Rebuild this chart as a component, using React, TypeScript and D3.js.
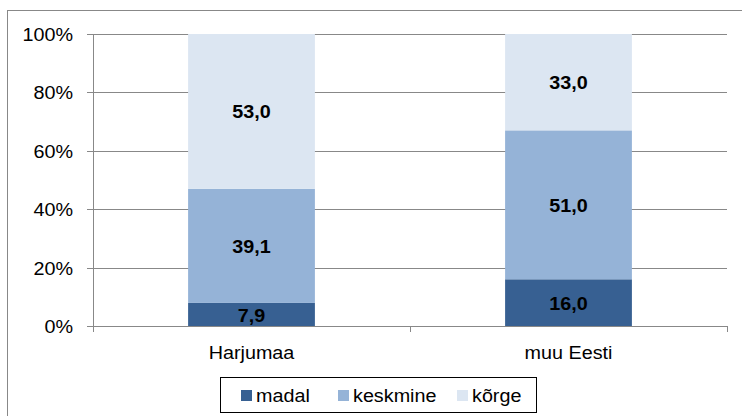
import React, { useEffect, useRef } from "react";
import * as d3 from "d3";

const categories = ["Harjumaa", "muu Eesti"];
const seriesNames = ["madal", "keskmine", "kõrge"];
const madal = [7.9, 16.0];
const keskmine = [39.1, 51.0];
const korge = [53.0, 33.0];
const yTicks = [0, 20, 40, 60, 80, 100];
const colors = ["#376092", "#95b3d7", "#dce6f2"];

const WIDTH = 742;
const HEIGHT = 416;
const SX = 1.13; // text in the reference is stretched a little horizontally
const FONT = '"Liberation Sans", Arial, sans-serif';
const GRID = "#888888";

const App = () => {
  const svgRef = useRef<SVGSVGElement>(null);

  useEffect(() => {
    const svg = d3.select(svgRef.current);
    svg.selectAll("*").remove();

    const left = 93;
    const right = 727;
    const top = 34;
    const bottom = 326;

    const x = d3.scaleBand().domain(categories).range([left, right]);
    const y = d3.scaleLinear().domain([0, 100]).range([bottom, top]);
    const barW = x.bandwidth() * 0.4;

    const rows = categories.map((c, i) => ({
      cat: c,
      madal: madal[i],
      keskmine: keskmine[i],
      "kõrge": korge[i],
    }));
    const stack = d3.stack<any>().keys(seriesNames)(rows);

    // outer frame (only top and left visible)
    svg
      .append("rect")
      .attr("x", 7.5)
      .attr("y", 10.5)
      .attr("width", 760)
      .attr("height", 420)
      .attr("fill", "white")
      .attr("stroke", GRID);

    // helper: stretched text
    const label = (g, tx, ty, text, anchor, weight = "normal") => {
      g.append("g")
        .attr("transform", `translate(${tx},${ty})`)
        .append("text")
        .attr("transform", `scale(${SX},1)`)
        .attr("text-anchor", anchor)
        .attr("dominant-baseline", "central")
        .attr("font-family", FONT)
        .attr("font-size", 17.5)
        .attr("font-weight", weight)
        .attr("fill", "#000")
        .text(text);
    };

    // gridlines
    svg
      .append("g")
      .selectAll("line")
      .data(yTicks.filter((d) => d > 0))
      .enter()
      .append("line")
      .attr("x1", left)
      .attr("x2", right)
      .attr("y1", (d) => Math.round(y(d)) + 0.5)
      .attr("y2", (d) => Math.round(y(d)) + 0.5)
      .attr("stroke", GRID);

    // y axis
    const yAxis = svg.append("g");
    yAxis
      .append("line")
      .attr("x1", left + 0.5)
      .attr("x2", left + 0.5)
      .attr("y1", top)
      .attr("y2", bottom)
      .attr("stroke", GRID);
    yTicks.forEach((t) => {
      const ty = Math.round(y(t)) + 0.5;
      yAxis
        .append("line")
        .attr("x1", left - 6)
        .attr("x2", left)
        .attr("y1", ty)
        .attr("y2", ty)
        .attr("stroke", GRID);
      label(yAxis, left - 20, ty, `${t}%`, "end");
    });

    // bars
    stack.forEach((layer, si) => {
      svg
        .append("g")
        .selectAll("rect")
        .data(layer)
        .enter()
        .append("rect")
        .attr("x", (d: any) => x(d.data.cat)! + (x.bandwidth() - barW) / 2)
        .attr("y", (d) => y(d[1]))
        .attr("width", barW)
        .attr("height", (d) => y(d[0]) - y(d[1]))
        .attr("fill", colors[si]);
    });

    // x axis
    const xAxis = svg.append("g");
    xAxis
      .append("line")
      .attr("x1", left)
      .attr("x2", right + 0.5)
      .attr("y1", bottom + 0.5)
      .attr("y2", bottom + 0.5)
      .attr("stroke", GRID);
    const bounds = [left, ...categories.map((c) => x(c)! + x.bandwidth())];
    bounds.forEach((bx) => {
      xAxis
        .append("line")
        .attr("x1", Math.round(bx) + 0.5)
        .attr("x2", Math.round(bx) + 0.5)
        .attr("y1", bottom)
        .attr("y2", bottom + 6)
        .attr("stroke", GRID);
    });
    categories.forEach((c) => {
      label(xAxis, x(c)! + x.bandwidth() / 2, bottom + 27, c, "middle");
    });

    // data labels
    const labels = svg.append("g");
    stack.forEach((layer) => {
      layer.forEach((d: any) => {
        const v = d[1] - d[0];
        label(
          labels,
          x(d.data.cat)! + x.bandwidth() / 2,
          (y(d[0]) + y(d[1])) / 2 + 1,
          v.toFixed(1).replace(".", ","),
          "middle",
          "bold"
        );
      });
    });

    // legend
    const legend = svg.append("g");
    legend
      .append("rect")
      .attr("x", 220.5)
      .attr("y", 377.5)
      .attr("width", 316)
      .attr("height", 35)
      .attr("fill", "white")
      .attr("stroke", "#000");
    const legendX = [241, 338, 457];
    seriesNames.forEach((s, i) => {
      legend
        .append("rect")
        .attr("x", legendX[i])
        .attr("y", 390)
        .attr("width", 11)
        .attr("height", 11)
        .attr("fill", colors[i]);
      label(legend, legendX[i] + 15, 396, s, "start");
    });
  }, []);

  return (
    <svg
      ref={svgRef}
      width={WIDTH}
      height={HEIGHT}
      style={{ position: "absolute", left: 0, top: 0, background: "white" }}
    ></svg>
  );
};

export default App;
